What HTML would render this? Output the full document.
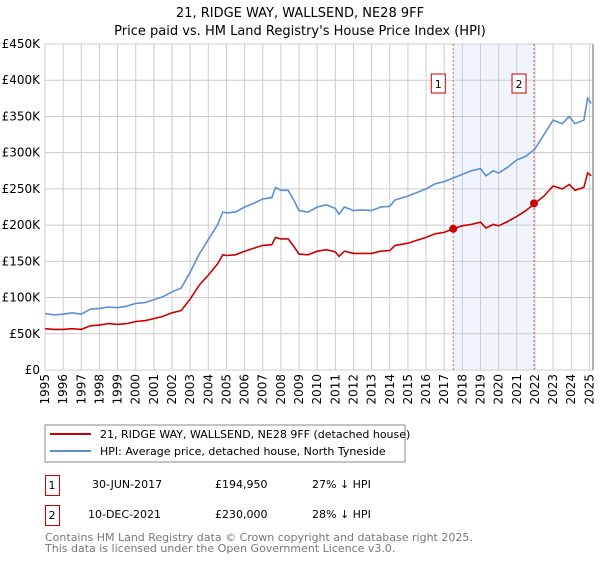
<!DOCTYPE html>
<html><head><meta charset="utf-8"><style>
body{margin:0;background:#fff;font-family:"Liberation Sans","DejaVu Sans",sans-serif;}
svg text{font-family:"DejaVu Sans","Liberation Sans",sans-serif;}
</style></head><body>
<svg id="c" width="600" height="560" xmlns="http://www.w3.org/2000/svg">
<text x="300" y="17" text-anchor="middle" font-size="13">21, RIDGE WAY, WALLSEND, NE28 9FF</text>
<text x="300" y="35" text-anchor="middle" font-size="13">Price paid vs. HM Land Registry's House Price Index (HPI)</text>
<g id="grid"></g><g id="marks"></g><g id="axes"></g>
<rect x="45" y="425" width="360" height="37" fill="#fff" stroke="#888"/>
<line x1="50" y1="434" x2="91" y2="434" stroke="#cc0000" stroke-width="2"/>
<text x="100" y="438" font-size="11">21, RIDGE WAY, WALLSEND, NE28 9FF (detached house)</text>
<line x1="50" y1="451" x2="91" y2="451" stroke="#5b8fd4" stroke-width="2"/>
<text x="100" y="455" font-size="11">HPI: Average price, detached house, North Tyneside</text>
<g font-size="11">
<rect x="45.5" y="475.5" width="14" height="20" fill="none" stroke="#c00"/>
<text x="52" y="489" text-anchor="middle">1</text>
<text x="92" y="488">30-JUN-2017</text>
<text x="215" y="488">£194,950</text>
<text x="312" y="488">27% ↓ HPI</text>
<rect x="45.5" y="505.5" width="14" height="20" fill="none" stroke="#c00"/>
<text x="52" y="519" text-anchor="middle">2</text>
<text x="88" y="518">10-DEC-2021</text>
<text x="215" y="518">£230,000</text>
<text x="312" y="518">28% ↓ HPI</text>
</g>
<text x="45" y="541" font-size="11" fill="#777">Contains HM Land Registry data © Crown copyright and database right 2025.</text>
<text x="45" y="552" font-size="11" fill="#777">This data is licensed under the Open Government Licence v3.0.</text>
</svg>
<script>
const years=[1995,1995.5,1996,1996.5,1997,1997.5,1998,1998.5,1999,1999.5,2000,2000.5,2001,2001.5,2002,2002.5,2003,2003.5,2004,2004.5,2004.8,2005,2005.5,2006,2006.5,2007,2007.5,2007.7,2008,2008.4,2008.7,2009,2009.5,2010,2010.5,2011,2011.2,2011.5,2012,2012.5,2013,2013.5,2014,2014.3,2015,2015.5,2016,2016.5,2017,2017.5,2018,2018.5,2019,2019.3,2019.7,2020,2020.5,2021,2021.5,2022,2022.5,2023,2023.5,2023.9,2024.2,2024.7,2024.9,2025.1];
const hpiValues=[78,76,77,79,77,84,85,87,86,88,92,93,97,101,108,113,135,160,180,200,218,217,218,225,230,236,238,252,248,248,235,220,218,225,228,223,215,225,220,221,220,225,226,235,240,245,250,257,260,265,270,275,278,268,275,272,280,290,295,305,325,345,340,350,340,345,375,368];
const priceValues=[57,56,56,57,56,61,62,64,63,64,67,68,71,74,79,82,98,117,131,146,159,158,159,164,168,172,173,183,181,181,171,160,159,164,166,163,157,164,161,161,161,164,165,172,175,179,183,188,190,195,199,201,204,196,201,199,205,212,220,230,240,254,250,256,248,252,272,268];
const sales=[{year:2017.5,value:194.95},{year:2021.95,value:230}];
const yTicks=[0,50,100,150,200,250,300,350,400,450];
const yLabels=["£0","£50K","£100K","£150K","£200K","£250K","£300K","£350K","£400K","£450K"];
const xTicks=[1995,1996,1997,1998,1999,2000,2001,2002,2003,2004,2005,2006,2007,2008,2009,2010,2011,2012,2013,2014,2015,2016,2017,2018,2019,2020,2021,2022,2023,2024,2025];
const NS="http://www.w3.org/2000/svg";
const X0=45,X1=593,Y0=370,Y1=44;
const sx=v=>X0+(v-1995)/(2025.2-1995)*(X1-X0);
const sy=v=>Y0-v/450*(Y0-Y1);
function mk(tag,attrs,parent){const e=document.createElementNS(NS,tag);for(const k in attrs)e.setAttribute(k,attrs[k]);document.getElementById(parent).appendChild(e);return e;}
const g='grid';
let sh=mk('rect',{x:sx(sales[0].year),y:Y1,width:sx(sales[1].year)-sx(sales[0].year),height:Y0-Y1,fill:'#f0f4fc'},g);


yTicks.forEach((t,i)=>{
 let l=mk('line',{x1:X0,x2:X1,y1:sy(t),y2:sy(t),stroke:'#ccc'},g);
 
 
 let tx=mk('text',{x:40,y:sy(t)+4,'text-anchor':'end','font-size':'12'},'axes');
 tx.textContent=yLabels[i];
 
 
});
xTicks.forEach(t=>{
 let l=mk('line',{x1:sx(t),x2:sx(t),y1:Y1,y2:Y0,stroke:'#ccc'},g);
 
 
 let tx=mk('text',{x:0,y:0,'font-size':'12','text-anchor':'end',transform:`translate(${sx(t)+4},${Y0+4}) rotate(-90)`},'axes');
 tx.textContent=t;
 
 
});
let ax=mk('line',{x1:X1,x2:X1,y1:Y1,y2:Y0,stroke:'#666'},'axes');


sales.forEach((s,i)=>{
 let l=mk('line',{x1:sx(s.year),x2:sx(s.year),y1:Y1,y2:Y0,stroke:'#e06060','stroke-dasharray':'2,2'},'marks');
 
 
 let b=mk('rect',{x:sx(s.year)-22,y:74,width:14,height:19,fill:'#fff',stroke:'#c00'},'marks');
 
 
 let t=mk('text',{x:sx(s.year)-15,y:88,'text-anchor':'middle','font-size':'11'},'marks');
 t.textContent=i+1;
 
 
});
const pts=a=>years.map((y,i)=>sx(y).toFixed(1)+','+sy(a[i]).toFixed(1)).join(' ');
let hl=mk('polyline',{points:pts(hpiValues),fill:'none',stroke:'#5b8fd4','stroke-width':'1.6'},'marks');


let pl=mk('polyline',{points:pts(priceValues),fill:'none',stroke:'#cc0000','stroke-width':'1.6'},'marks');


sales.forEach((s,i)=>{
 let c=mk('circle',{cx:sx(s.year),cy:sy(s.value),r:4,fill:'#cc0000'},'marks');
 
 
});
</script>
</body></html>
